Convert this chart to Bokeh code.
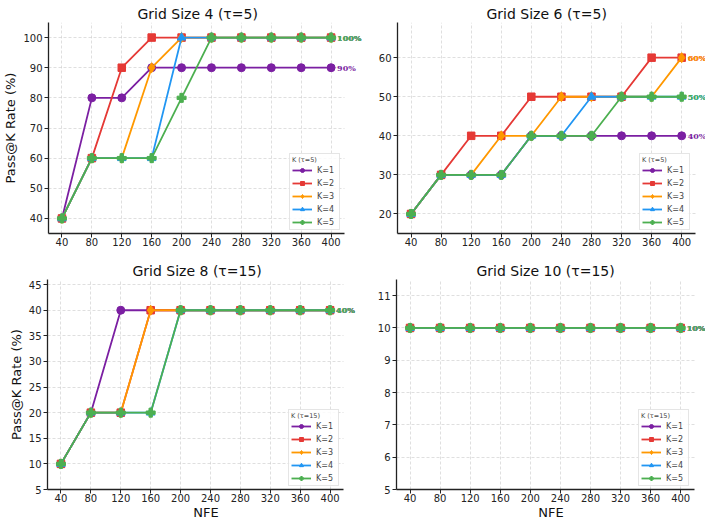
from bokeh.plotting import figure
from bokeh.layouts import column, row
from bokeh.models import Range1d, FixedTicker
from bokeh.core.properties import value
from bokeh.embed import file_html
from bokeh.resources import INLINE

nfe = [40, 80, 120, 160, 200, 240, 280, 320, 360, 400]
k_labels = ["K=1", "K=2", "K=3", "K=4", "K=5"]

# Grid Size 4 (tau=5)
g4_k1 = [40, 80, 80, 90, 90, 90, 90, 90, 90, 90]
g4_k2 = [40, 60, 90, 100, 100, 100, 100, 100, 100, 100]
g4_k3 = [40, 60, 60, 90, 100, 100, 100, 100, 100, 100]
g4_k4 = [40, 60, 60, 60, 100, 100, 100, 100, 100, 100]
g4_k5 = [40, 60, 60, 60, 80, 100, 100, 100, 100, 100]
g4_yticks = [40, 50, 60, 70, 80, 90, 100]

# Grid Size 6 (tau=5)
g6_k1 = [20, 30, 30, 30, 40, 40, 40, 40, 40, 40]
g6_k2 = [20, 30, 40, 40, 50, 50, 50, 50, 60, 60]
g6_k3 = [20, 30, 30, 40, 40, 50, 50, 50, 50, 60]
g6_k4 = [20, 30, 30, 30, 40, 40, 50, 50, 50, 50]
g6_k5 = [20, 30, 30, 30, 40, 40, 40, 50, 50, 50]
g6_yticks = [20, 30, 40, 50, 60]

# Grid Size 8 (tau=15)
g8_k1 = [10, 20, 40, 40, 40, 40, 40, 40, 40, 40]
g8_k2 = [10, 20, 20, 40, 40, 40, 40, 40, 40, 40]
g8_k3 = [10, 20, 20, 40, 40, 40, 40, 40, 40, 40]
g8_k4 = [10, 20, 20, 20, 40, 40, 40, 40, 40, 40]
g8_k5 = [10, 20, 20, 20, 40, 40, 40, 40, 40, 40]
g8_yticks = [5, 10, 15, 20, 25, 30, 35, 40, 45]

# Grid Size 10 (tau=15)
g10_k1 = [10, 10, 10, 10, 10, 10, 10, 10, 10, 10]
g10_k2 = [10, 10, 10, 10, 10, 10, 10, 10, 10, 10]
g10_k3 = [10, 10, 10, 10, 10, 10, 10, 10, 10, 10]
g10_k4 = [10, 10, 10, 10, 10, 10, 10, 10, 10, 10]
g10_k5 = [10, 10, 10, 10, 10, 10, 10, 10, 10, 10]
g10_yticks = [5, 6, 7, 8, 9, 10, 11]

colors = ["#7B1FA2", "#E53935", "#FF9800", "#2196F3", "#4CAF50"]
markers = ["circle", "square", "diamond", "triangle", "plus"]
msizes = [8, 7.5, 10, 8.5, 9]

FONT = "DejaVu Sans"
X_LO, X_HI = 22, 418          # axis limits
X_EXT_LEFT, X_EXT_RIGHT = 446, 433   # frame extended so end labels are not clipped
TITLE_OFFSETS = [89, 89, 85, 80]     # left-aligned title offsets (centred over axis)

panels = [
    ("Grid Size 4 (\u03c4=5)", "K (\u03c4=5)", [g4_k1, g4_k2, g4_k3, g4_k4, g4_k5], g4_yticks),
    ("Grid Size 6 (\u03c4=5)", "K (\u03c4=5)", [g6_k1, g6_k2, g6_k3, g6_k4, g6_k5], g6_yticks),
    ("Grid Size 8 (\u03c4=15)", "K (\u03c4=15)", [g8_k1, g8_k2, g8_k3, g8_k4, g8_k5], g8_yticks),
    ("Grid Size 10 (\u03c4=15)", "K (\u03c4=15)", [g10_k1, g10_k2, g10_k3, g10_k4, g10_k5], g10_yticks),
]


def make(idx):
    title, ltitle, series, yticks = panels[idx]
    left = idx % 2 == 0
    top = idx < 2
    allv = [v for s in series for v in s]
    ylo = min(allv) - 5
    yhi = min(105, max(allv) * 1.15)
    axis_px = 296 if left else 298
    x_ext = X_EXT_LEFT if left else X_EXT_RIGHT
    fw = round(axis_px * (x_ext - X_LO) / (X_HI - X_LO))
    p = figure(
        frame_width=fw,
        frame_height=211 if top else 210,
        x_range=Range1d(X_LO, x_ext),
        y_range=Range1d(ylo, yhi),
        output_backend="svg",
        toolbar_location=None,
        title=title,
        min_border_left=47 if left else 32,
        min_border_right=0,
        min_border_top=22 if top else 29,
        min_border_bottom=17 if top else 21,
    )
    p.title.align = "left"
    p.title.offset = TITLE_OFFSETS[idx]
    p.title.text_font = FONT
    p.title.text_font_size = "14px"
    p.title.text_font_style = "normal"
    p.title.text_color = "#111111"
    p.title.standoff = 2
    p.outline_line_color = None
    p.background_fill_color = "white"
    p.border_fill_color = "white"

    for ax in (p.xaxis, p.yaxis):
        ax.axis_line_color = "#222222"
        ax.axis_line_width = 1.3
        ax.major_tick_line_color = "#222222"
        ax.major_tick_out = 4
        ax.major_tick_in = 0
        ax.minor_tick_line_color = None
        ax.major_label_text_font = FONT
        ax.major_label_text_font_size = "10px"
        ax.major_label_text_color = "#222222"
        ax.axis_label_text_font = FONT
        ax.axis_label_text_font_size = "13px"
        ax.axis_label_text_font_style = "normal"
        ax.axis_label_text_color = "#111111"
    p.xaxis.major_label_standoff = 0
    p.yaxis.major_label_standoff = 2
    p.xaxis.bounds = (X_LO, X_HI)
    p.xaxis.ticker = FixedTicker(ticks=nfe)
    p.yaxis.ticker = FixedTicker(ticks=yticks)
    if left:
        p.yaxis.axis_label = "Pass@K Rate (%)"
        p.yaxis.axis_label_standoff = 2
    if not top:
        p.xaxis.axis_label = "NFE"
        p.xaxis.axis_label_standoff = 0

    p.xgrid.ticker = FixedTicker(ticks=nfe)
    p.ygrid.ticker = FixedTicker(ticks=yticks)
    for g in (p.xgrid, p.ygrid):
        g.grid_line_color = "#bbbbbb"
        g.grid_line_alpha = 0.6
        g.grid_line_dash = "3 2"
        g.grid_line_width = 0.8
    if "cross_bounds" in p.ygrid[0].properties():
        p.ygrid.cross_bounds = (X_LO, X_HI)

    for k in range(5):
        s = series[k]
        p.line(nfe, s, line_color=colors[k], line_width=1.8, legend_label=k_labels[k])
        p.scatter(nfe, s, marker=markers[k], size=msizes[k], fill_color=colors[k],
                  line_color=colors[k], legend_label=k_labels[k])

    for k in range(5):
        s = series[k]
        p.text(x=[nfe[-1]], y=[s[-1]], text=[f"{s[-1]}%"], x_offset=6,
               text_baseline="middle", text_align="left",
               text_font=value("DejaVu Serif"), text_font_style="bold",
               text_font_size="8px", text_color=colors[k])

    lg = p.legend[0]
    lg.location = (241, 3) if left else (242, 3)
    lg.title = ltitle
    lg.title_text_font = FONT
    lg.title_text_font_size = "6.5px"
    lg.title_text_font_style = "normal"
    lg.title_standoff = 1
    lg.label_text_font = FONT
    lg.label_text_font_size = "8px"
    lg.label_height = 10
    lg.glyph_height = 10
    lg.glyph_width = 20
    lg.label_standoff = 5
    lg.spacing = 3
    lg.padding = 2
    lg.margin = 0
    lg.border_line_color = "#cccccc"
    lg.border_line_width = 1
    lg.background_fill_alpha = 0.85
    return p


figs = [make(i) for i in range(4)]
layout = column(row(figs[0], figs[1]), row(figs[2], figs[3]))

open("out.html", "w").write(file_html(layout, INLINE))
